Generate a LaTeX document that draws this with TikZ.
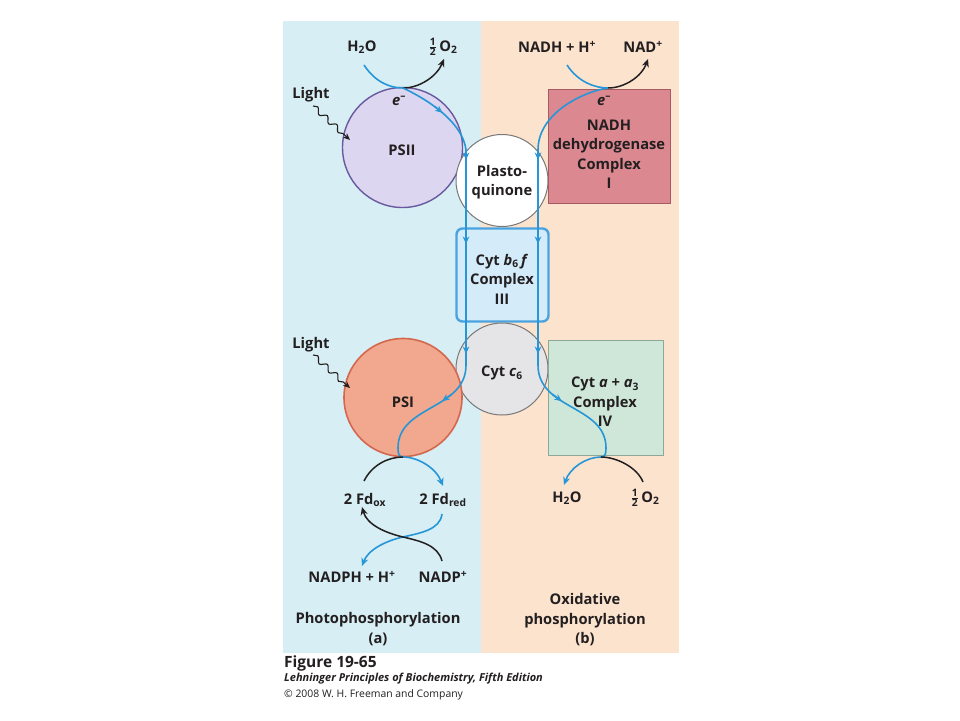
\documentclass[tikz,border=0pt]{standalone}
\usepackage{fontspec}
\setmainfont{Open Sans}
\usepackage{amsmath}
\usetikzlibrary{arrows.meta,decorations.pathmorphing}
\definecolor{panelA}{RGB}{214,238,244}
\definecolor{panelB}{RGB}{252,227,206}
\definecolor{eblue}{RGB}{38,150,214}
\definecolor{ink}{RGB}{35,31,32}
\definecolor{psIIfill}{RGB}{220,214,240}
\definecolor{psIIline}{RGB}{105,90,160}
\definecolor{psIfill}{RGB}{241,168,142}
\definecolor{psIline}{RGB}{212,104,78}
\definecolor{nadhfill}{RGB}{219,136,145}
\definecolor{nadhline}{RGB}{166,90,99}
\definecolor{coxfill}{RGB}{207,231,216}
\definecolor{coxline}{RGB}{140,168,150}
\definecolor{bffill}{RGB}{212,236,250}
\definecolor{bfline}{RGB}{74,163,223}
\definecolor{cytfill}{RGB}{229,229,232}
\definecolor{greyline}{RGB}{120,120,120}
\newcommand{\hlf}{\ensuremath{\genfrac{}{}{0.6pt}{}{\textbf{1}}{\textbf{2}}}}
\newcommand{\eminus}{\textit{e}\textsuperscript{--}}
\begin{document}
\begin{tikzpicture}[x=1pt,y=-1pt,
  lbl/.style={font=\fontsize{14.7}{19.5}\selectfont\bfseries,text=ink,align=center,inner sep=0pt},
  eline/.style={draw=eblue,color=eblue,line width=1.6pt},
  kline/.style={draw=ink,color=ink,line width=1.5pt},
  endtip/.style={-{Stealth[length=8pt,width=7pt]}},
  midtip/.style={draw=eblue,color=eblue,line width=1.6pt,-{Stealth[length=7.5pt,width=6.5pt]}},
  lightarrow/.style={draw=ink,line width=1.1pt,-{Stealth[length=7pt,width=6pt]},
     decorate,decoration={snake,amplitude=2.6pt,segment length=13pt,post length=7pt}},
  ]
\useasboundingbox (0,0) rectangle (960,720);
\fill[white] (0,0) rectangle (960,720);
% panels
\fill[panelA] (283,21) rectangle (481,653);
\fill[panelB] (481,21) rectangle (679,653);
% complexes
\node[circle,minimum size=120pt,inner sep=0pt,draw=psIIline,fill=psIIfill,line width=1.4pt] (psII) at (402.5,147.5) {};
\node[circle,minimum size=92pt,inner sep=0pt,draw=greyline,fill=white,line width=1pt] (pq) at (502,180.5) {};
\node[rectangle,minimum width=122pt,minimum height=114pt,inner sep=0pt,draw=nadhline,fill=nadhfill,line width=1pt] (nadh) at (609,146) {};
\node[rectangle,rounded corners=6pt,minimum width=92pt,minimum height=93pt,inner sep=0pt,draw=bfline,fill=bffill,line width=2.4pt] (bf) at (502.5,275) {};
\node[circle,minimum size=92pt,inner sep=0pt,draw=greyline,fill=cytfill,line width=1pt] (cyt) at (502,369) {};
\node[circle,minimum size=118pt,inner sep=0pt,draw=psIline,fill=psIfill,line width=1.6pt] (psI) at (403,397.5) {};
\node[rectangle,minimum width=115pt,minimum height=115pt,inner sep=0pt,draw=coxline,fill=coxfill,line width=1pt] (cox) at (605.5,397.5) {};
% labels
\node[lbl] (h2oa) at (362,47) {H\textsubscript{2}O};
\node[lbl] (o2a) at (443,47) {\hlf\,O\textsubscript{2}};
\node[lbl] (nadhh) at (557,47) {NADH + H\textsuperscript{+}};
\node[lbl] (nadp) at (643,47) {NAD\textsuperscript{+}};
\node[lbl] (light1) at (311,95) {Light};
\node[lbl] (e1) at (399,101) {\eminus};
\node[lbl] (e2) at (604,101) {\eminus};
\node[lbl] (tpsII) at (402,150) {PSII};
\node[lbl] (tpq) at (502,182) {Plasto-\\quinone};
\node[lbl] (tnadh) at (609,154) {NADH\\dehydrogenase\\Complex\\I};
\node[lbl] (tbf) at (502,279) {Cyt \textit{b}\textsubscript{6}\,\textit{f}\\Complex\\III};
\node[lbl] (light2) at (311,345) {Light};
\node[lbl] (tpsI) at (403,402) {PSI};
\node[lbl] (tcyt) at (502,373) {Cyt \textit{c}\textsubscript{6}};
\node[lbl] (tcox) at (605,402) {Cyt \textit{a} + \textit{a}\textsubscript{3}\\Complex\\IV};
\node[lbl] (fdox) at (365,500) {2 Fd\textsubscript{ox}};
\node[lbl] (fdred) at (443,500) {2 Fd\textsubscript{red}};
\node[lbl] (h2ob) at (567,498) {H\textsubscript{2}O};
\node[lbl] (o2b) at (645,498) {\hlf\,O\textsubscript{2}};
\node[lbl] (nadph) at (352,577) {NADPH + H\textsuperscript{+}};
\node[lbl] (nadpp) at (443,577) {NADP\textsuperscript{+}};
\node[lbl] (capa) at (378,629) {Photophosphorylation\\(a)};
\node[lbl] (capb) at (585,620) {Oxidative\\phosphorylation\\(b)};
\node[anchor=west,inner sep=0pt,font=\fontsize{15.5}{19}\selectfont\bfseries,text=ink] (fig) at (284,663) {Figure 19-65};
\node[anchor=west,inner sep=0pt,font=\fontsize{11}{14}\selectfont\bfseries\itshape,text=ink] (book) at (284,678.5) {Lehninger Principles of Biochemistry, Fifth Edition};
\node[anchor=west,inner sep=0pt,font=\fontsize{10.4}{14}\selectfont,text=ink] (copy) at (284,694.5) {© 2008 W. H. Freeman and Company};
% coordinates for electron paths
\coordinate (w1) at (364,65);
\coordinate (j1) at (403,88);
\coordinate (o1) at (444,59);
\coordinate (v1t) at (466,150);
\coordinate (v1b) at (466,365);
\coordinate (s1) at (398,448);
\coordinate (p1) at (403,457);
\coordinate (f1) at (364,481);
\coordinate (f2) at (443,486);
\coordinate (f3) at (442,514);
\coordinate (x1) at (403,537);
\coordinate (n1) at (362,566);
\coordinate (n2) at (442,561);
\coordinate (f4) at (362,507);
\coordinate (w2) at (567,65);
\coordinate (j2) at (608,88);
\coordinate (o2) at (648,59);
\coordinate (v2t) at (538,150);
\coordinate (v2b) at (538,365);
\coordinate (s2) at (606,448);
\coordinate (p2) at (601,457);
\coordinate (h1) at (564,485);
\coordinate (h2) at (643,482);
\coordinate (l1s) at (313,106);
\coordinate (l1e) at (350,140);
\coordinate (l2s) at (313,355);
\coordinate (l2e) at (350,388);
% mid-path arrow tips (tail / tip)
\coordinate (m1a) at (434.7,106.5); \coordinate (m1b) at (442.6,112.9);
\coordinate (m2a) at (466,153); \coordinate (m2b) at (466,160);
\coordinate (m3a) at (466,237); \coordinate (m3b) at (466,244);
\coordinate (m4a) at (466,347); \coordinate (m4b) at (466,354);
\coordinate (m5a) at (538,153); \coordinate (m5b) at (538,160);
\coordinate (m6a) at (538,237); \coordinate (m6b) at (538,244);
\coordinate (m7a) at (538,347); \coordinate (m7b) at (538,354);
\coordinate (m8a) at (451.2,394.6); \coordinate (m8b) at (442.1,401.2);
\coordinate (m9a) at (552.8,394.6); \coordinate (m9b) at (561.9,401.2);
% light
\draw[lightarrow] (l1s) -- (l1e);
\draw[lightarrow] (l2s) -- (l2e);
% photosynthetic chain
\draw[eline] (w1) .. controls (375,82) and (390,88) .. (j1);
\draw[kline,endtip] (j1) .. controls (420,88) and (437,76) .. (o1);
\draw[eline] (j1) .. controls (418,95) and (462,118) .. (v1t);
\draw[eline] (v1t) -- (v1b);
\draw[eline] (v1b) .. controls (466,410) and (398,405) .. (s1) .. controls (398,454) and (399,457) .. (p1);
\draw[kline] (f1) .. controls (372,465) and (388,457) .. (p1);
\draw[eline,endtip] (p1) .. controls (418,457) and (436,468) .. (f2);
\draw[eline,endtip] (f3) .. controls (440,530) and (420,533) .. (x1) .. controls (385,541) and (368,550) .. (n1);
\draw[kline,endtip] (n2) .. controls (438,545) and (420,541) .. (x1) .. controls (386,533) and (367,525) .. (f4);
% respiratory chain
\draw[eline] (w2) .. controls (578,82) and (595,88) .. (j2);
\draw[kline,endtip] (j2) .. controls (625,88) and (642,76) .. (o2);
\draw[eline] (j2) .. controls (590,90) and (538,110) .. (v2t);
\draw[eline] (v2t) -- (v2b);
\draw[eline] (v2b) .. controls (538,410) and (606,405) .. (s2) .. controls (606,454) and (605,457) .. (p2);
\draw[eline,endtip] (p2) .. controls (586,457) and (570,468) .. (h1);
\draw[kline] (p2) .. controls (616,457) and (637,467) .. (h2);
% mid arrows
\foreach \a/\b in {m1a/m1b,m2a/m2b,m3a/m3b,m4a/m4b,m5a/m5b,m6a/m6b,m7a/m7b,m8a/m8b,m9a/m9b}
  \draw[midtip] (\a) -- (\b);
\end{tikzpicture}
\end{document}
